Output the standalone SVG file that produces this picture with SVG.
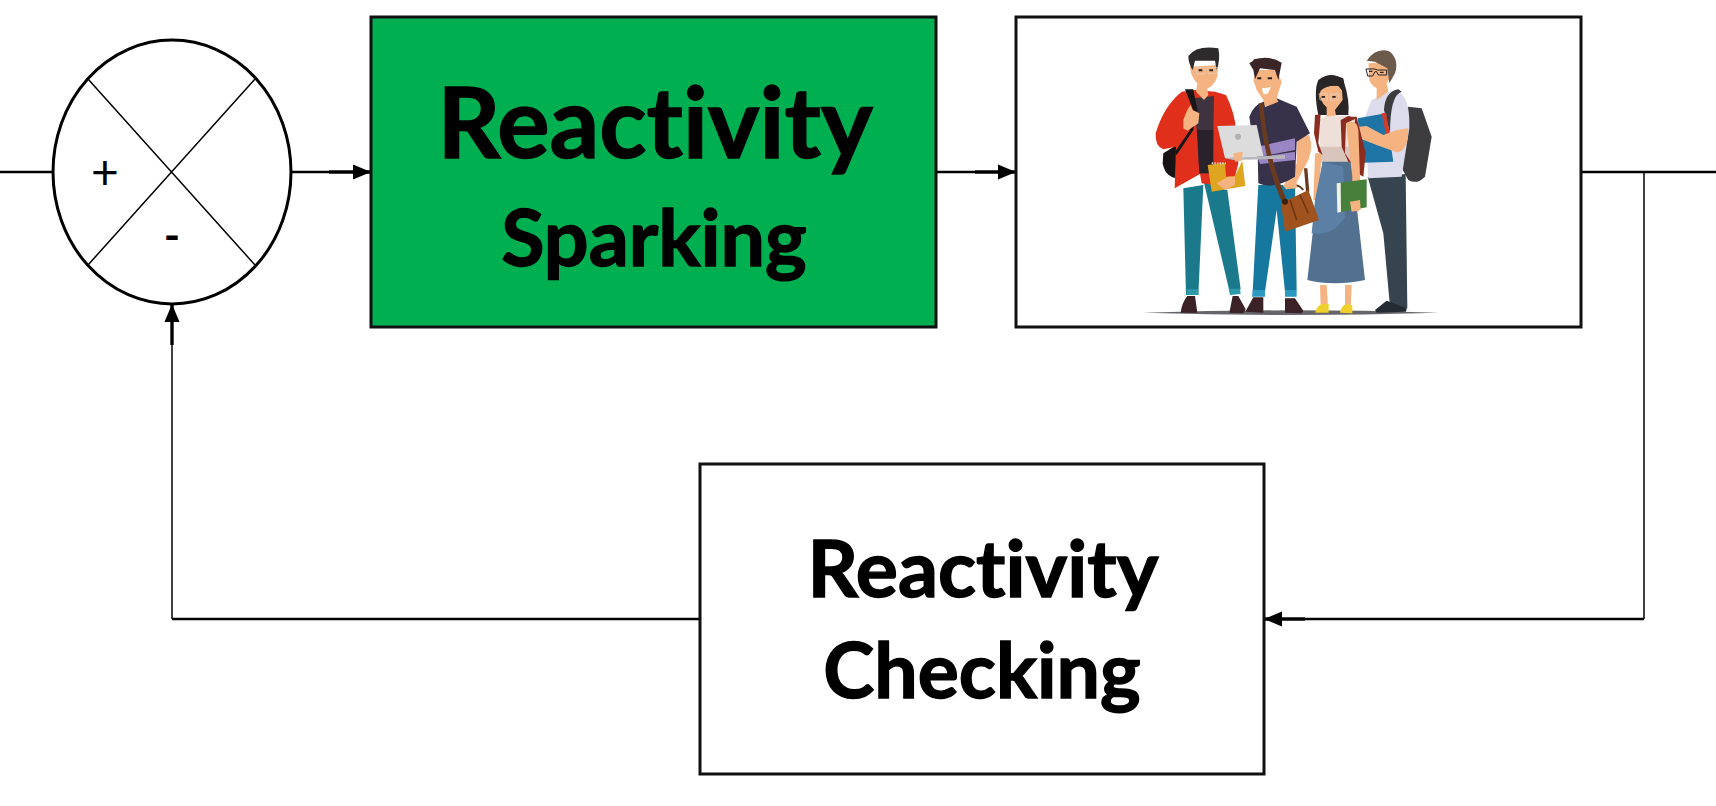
<svg xmlns="http://www.w3.org/2000/svg" width="1716" height="806" viewBox="0 0 1716 806">
<defs>
<marker id="ah" markerUnits="userSpaceOnUse" markerWidth="20" markerHeight="16" refX="18" refY="8" orient="auto"><path d="M0 0.5L18 8L0 15.5Z" fill="#000"/></marker>
</defs>
<style>
.box{stroke:#111;stroke-width:3}
.lbl{font-family:Lato,"Open Sans",sans-serif;font-weight:700;fill:#000;stroke:#000;stroke-width:1.4;text-anchor:middle;font-variant-ligatures:none}
.ln{fill:none;stroke:#000;stroke-width:3.4}
.mid{fill:none;stroke:#000;stroke-width:2.4}
.thin{fill:none;stroke:#000;stroke-width:1.5}
.skin{fill:#f5b381}
.glass{fill:none;stroke:#dcd6cc;stroke-width:2}
.eye{fill:#2b2020}
</style>
<rect width="1716" height="806" fill="#fff"/>
<g id="connectors">
<path class="mid" d="M0 172H53"/>
<path class="mid" d="M291 172H329"/>
<path class="ln" d="M329 172H371" marker-end="url(#ah)"/>
<path class="mid" d="M936 172H975"/>
<path class="ln" d="M975 172H1016" marker-end="url(#ah)"/>
<path class="mid" d="M1581 172H1716"/>
<path class="thin" d="M1644 172V619"/>
<path class="mid" d="M1644 619H1305"/>
<path class="ln" d="M1305 619H1264" marker-end="url(#ah)"/>
<path class="mid" d="M700 619H172"/>
<path class="thin" d="M172 619V345"/>
<path class="ln" d="M172 345V304" marker-end="url(#ah)"/>
</g>
<g id="summing-junction">
<ellipse cx="172" cy="172" rx="119" ry="132" fill="#fff" stroke="#000" stroke-width="3"/>
<path class="thin" d="M88 79L255 265M255 79L88 265"/>
<text x="105" y="189" font-family="Lato,sans-serif" font-size="48" text-anchor="middle" fill="#000">+</text>
<text x="172" y="251" font-family="Lato,sans-serif" font-weight="700" font-size="44" text-anchor="middle" fill="#000">-</text>
</g>
<g id="reactivity-sparking">
<rect class="box" x="371" y="17" width="565" height="310" fill="#00b050"/>
<text class="lbl" x="655" y="158" font-size="98">Reactivity</text>
<text class="lbl" x="654" y="266" font-size="79">Sparking</text>
</g>
<g id="students">
<rect class="box" x="1016" y="17" width="565" height="310" fill="#fff"/>
<g transform="translate(1100 20) scale(.33333)">
<path d="M130 878Q572 864 1016 878Q572 892 130 878Z" fill="#66666a"/>
<!-- person 4 -->
<path d="M925 260L965 265L995 350L975 470Q950 495 925 480L880 400Z" fill="#3d3c3e"/>
<path d="M803 470L917 462L922 865L870 860L850 640Z" fill="#36444f"/>
<path d="M825 870L860 842L920 865L918 875L830 878Z" fill="#252b33"/>
<path d="M815 240L880 210Q925 215 928 300V325L905 470L805 475L795 290Z" fill="#dcdcec"/>
<path d="M852 270Q855 215 895 208L905 215Q870 225 870 340Z" fill="#3c3b3d"/>
<path d="M773 295L858 280L880 425L790 428Z" fill="#1f74a6"/>
<path d="M845 280L858 278L870 345L858 345Z" fill="#d63a2c"/>
<path class="skin" d="M775 320L800 318L850 345L890 330L925 325Q925 395 890 397L830 375L785 358Z"/>
<path class="skin" d="M806 130L870 125L872 170L860 190L865 215L830 240L830 205Q810 195 806 170Z"/>
<path d="M800 122Q830 80 870 95Q898 120 885 160L868 190L862 145L825 125Z" fill="#6c5a4a"/>
<path d="M798 147H825L832 150H860V165H835L830 155H825L818 168H803Z" fill="none" stroke="#222" stroke-width="3"/>
<path class="eye" d="M807 152h10v4h-10zM840 155h11v4h-11z"/>
<!-- person 3 -->
<path d="M655 285Q640 215 655 180Q695 150 730 180Q750 240 745 285Z" fill="#2a2526"/>
<path d="M725 290L770 290L797 400L790 470L755 450Z" fill="#8b2c20"/>
<path class="skin" d="M645 400L665 400L655 540L640 540Z"/>
<path d="M655 300L690 283L765 295L755 430H665Z" fill="#eee0d8"/>
<path d="M660 380H755V430H665Z" fill="#d9c5bb"/>
<path d="M668 425H755L795 780Q700 800 622 780L645 580Z" fill="#52708f"/>
<path d="M668 425L730 440L735 590Q700 650 635 640L645 540Z" fill="#5c7fa5"/>
<path class="skin" d="M660 795H680L684 860H662ZM735 795H755L752 860H735Z"/>
<path d="M646 878Q650 858 665 852H686V878ZM720 878Q722 860 738 852L757 856V880Z" fill="#f0d02c"/>
<path d="M645 285L662 283L655 370L668 405L655 395L642 340Z" fill="#8b2c20"/>
<path d="M722 300L745 288L770 295L738 310L735 400L755 430L745 425L725 380Z" fill="#8b2c20"/>
<path class="skin" d="M738 310Q770 295 775 330L783 550L775 575L755 570L757 470Z"/>
<path d="M710 490L800 478V562L712 578Z" fill="#47803a"/>
<path d="M710 490L722 488L723 576L712 578Z" fill="#f2f2ea"/>
<path class="skin" d="M750 545L780 540L782 570L755 575Z"/>
<path class="skin" d="M655 200L725 195L728 240L705 270L708 286L680 290L680 262Q658 245 655 200Z"/>
<path d="M650 197Q690 155 730 175L737 225L715 198Q680 195 662 212L655 235Z" fill="#2a2526"/>
<path class="eye" d="M665 228h10v5h-10zM697 228h10v5h-10z"/>
<path class="glass" d="M657 221H682V240H660ZM690 222H716V240H692Z"/>
<!-- person 2 -->
<path d="M475 495H585L590 810L555 815L530 570L495 815H458Z" fill="#17789f"/>
<path d="M458 810H495V830H456ZM555 810H590V830H555Z" fill="#2c9ac0"/>
<path d="M436 875L460 832H490L490 878ZM555 878V835H585L610 872L605 880Z" fill="#3a2226"/>
<path class="skin" d="M590 350L628 345Q640 385 625 420L580 505L550 498L590 430Z"/>
<path d="M448 290Q460 255 490 245L530 235L590 260L630 340L590 365L585 470Q520 510 475 490L472 350L455 340Z" fill="#37314a"/>
<path d="M472 380L585 355V390L472 412ZM472 412L585 395V420L480 432Z" fill="#9a86c4"/>
<path class="skin" d="M460 180L472 150H530L545 185L530 235L535 245L495 262L490 240L470 210Z"/>
<path d="M448 130Q460 125 462 118Q510 105 545 128L535 180L525 150L480 145L465 178L460 150Z" fill="#3b2526"/>
<path class="eye" d="M472 172h12v6h-12zM503 172h13v6h-13z"/>
<path d="M486 205Q500 205 512 200Q505 228 490 222Z" fill="#fff"/>
<path d="M476 250L490 250Q500 400 560 540L548 552Q490 420 476 250Z" fill="#6a3a20"/>
<path d="M612 445L622 445L628 515H618Z" fill="#6a3a20"/>
<path d="M543 550L625 510L657 600L555 635Z" fill="#a0521f"/>
<path d="M568 505Q590 485 610 510" fill="none" stroke="#5c2f15" stroke-width="5"/>
<path d="M570 540L590 600M600 525L625 580" stroke="#6f3612" stroke-width="5" fill="none"/>
<circle cx="555" cy="545" r="9" fill="#3b1e10"/>
<path class="skin" d="M548 495L590 485L590 505L558 508Z"/>
<!-- person 1 -->
<path d="M190 400L262 355L230 475Q195 470 188 430Z" fill="#181416"/>
<path d="M250 505L310 495L295 825H258ZM310 480L382 510L422 808L388 812Z" fill="#1a7a8c"/>
<path d="M260 808H295V825H260ZM386 806H420L422 822L390 825Z" fill="#2e9bab"/>
<path d="M242 878Q245 850 262 828H285L292 878ZM388 878L398 828H415L437 868L430 880Z" fill="#3a2226"/>
<path d="M245 215L285 210L345 215L378 225Q405 280 408 330L415 430L405 470L385 500L305 490L300 462L224 505L228 380L190 388Q165 380 167 340Q190 260 245 215Z" fill="#e0301c"/>
<path d="M282 235L342 228L338 460H298L290 330Z" fill="#3f3340"/>
<path d="M292 330H340V460H298Z" fill="#29222a"/>
<path d="M255 208L280 208L292 270L280 330L230 405L225 395L270 330L285 285Z" fill="#1a1618"/>
<path class="skin" d="M270 140L355 135L352 170Q340 200 322 205L325 225L312 240L288 215L292 190Q272 170 270 140Z"/>
<path d="M265 108Q290 75 355 85Q362 120 350 150L345 122L285 122L278 150Q265 130 265 108Z" fill="#2d2a2b"/>
<path class="eye" d="M296 148h11v6h-11zM328 148h11v6h-11z"/>
<path class="glass" d="M287 143H315V162H290ZM322 143H352V160H325Z"/>
<path class="skin" d="M250 300Q262 265 272 255L278 270L298 280L295 310L262 332L250 325Z"/>
<path d="M323 435L375 428L378 470L405 468L427 422L436 498L335 515Z" fill="#e0a520"/>
<path d="M335 430H378" stroke="#d8d8d8" stroke-width="6" stroke-dasharray="4 4"/>
<path class="skin" d="M350 490L385 470L405 470L405 495L375 510Z"/>
<!-- laptop -->
<path d="M352 318L470 315L490 408L375 415Z" fill="#dcdcdc"/>
<path d="M375 415L555 405V416L400 420Z" fill="#b9b9bd"/>
<ellipse cx="414" cy="350" rx="9" ry="9" fill="#b0b0b0"/>
<path class="skin" d="M400 400L428 395L425 422L405 425Z"/>
</g>
</g>
<g id="reactivity-checking">
<rect class="box" x="700" y="464" width="564" height="310" fill="#fff"/>
<text class="lbl" x="983" y="597" font-size="79">Reactivity</text>
<text class="lbl" x="982" y="698" font-size="77">Checking</text>
</g>
</svg>
